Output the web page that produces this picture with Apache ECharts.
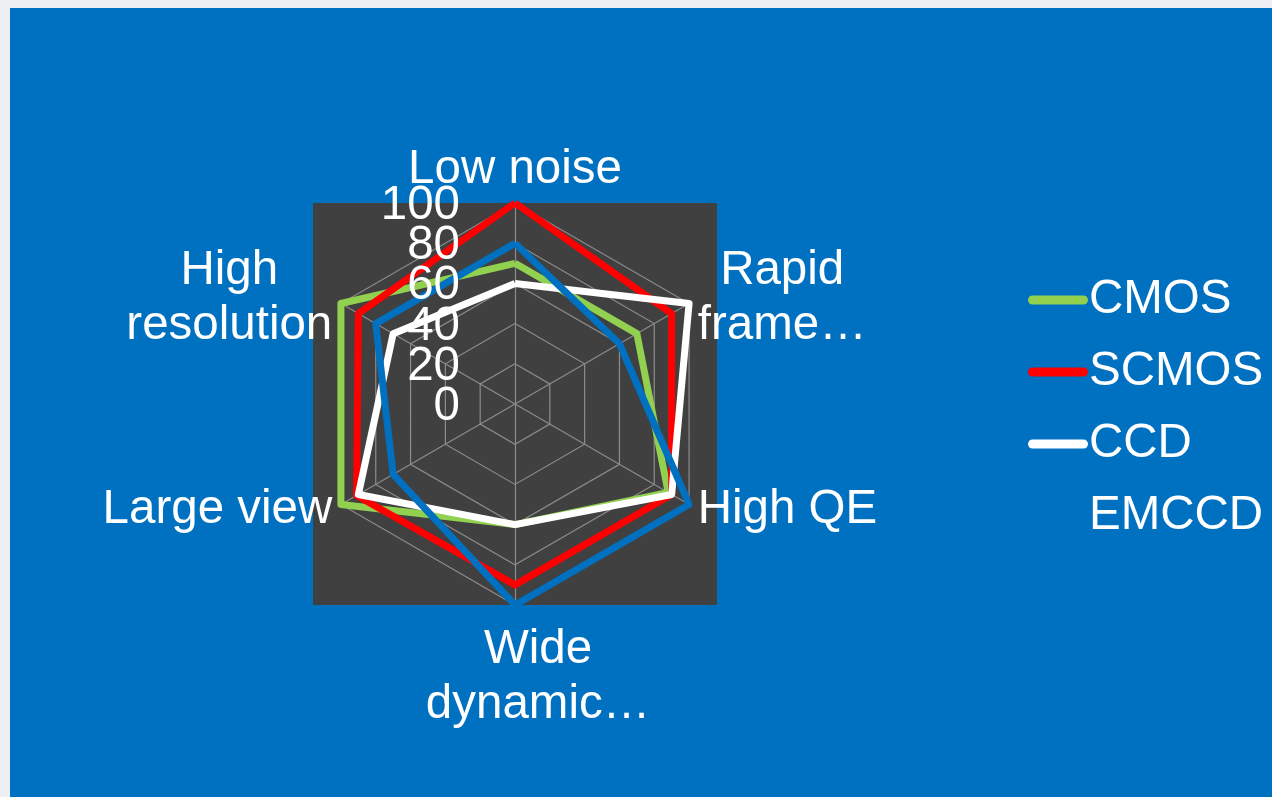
<!DOCTYPE html>
<html>
<head>
<meta charset="utf-8">
<script src="https://cdn.jsdelivr.net/npm/echarts@6/dist/echarts.min.js"></script>
<style>
  html, body { margin: 0; padding: 0; background: #EEEFF2; }
  #chart { position: absolute; left: 10px; top: 8px; width: 1262px; height: 789px; }
</style>
</head>
<body>
<div id="chart"></div>
<script>
// Camera sensor comparison, scores 0-100 per attribute (clockwise from the top)
const categories = ['Low noise', 'Rapid frame rate', 'High QE', 'Wide dynamic range', 'Large view', 'High resolution'];
const axisLabels = ['Low noise', 'Rapid\nframe…', 'High QE', 'Wide\ndynamic…', 'Large view', 'High\nresolution'];
const seriesNames = ['CMOS', 'SCMOS', 'CCD', 'EMCCD'];
const cmos  = [70, 70, 88, 60, 100, 100];
const scmos = [100, 90, 90, 90, 91, 90];
const ccd   = [60, 100, 90, 60, 90, 70];
const emccd = [80, 60, 100, 100, 70, 80];
const tickLabels = ['0', '20', '40', '60', '80', '100'];
const scaleMax = 100;
const scaleSplits = 5;

const colors = ['#92D050', '#FF0000', '#FFFFFF', '#0070C0'];
const values = [cmos, scmos, ccd, emccd];

// ECharts lays indicators out counter-clockwise; reorder so they run clockwise.
const order = [0, 5, 4, 3, 2, 1];

const FONT = '"Liberation Sans", Arial, sans-serif';
const FS = 47.5;
const center = [505, 396];
const radius = 201;
// digits sit a little below the ring they name
const labelDrop = 3;

const indicator = order.map(function (i) {
  return { name: categories[i], max: scaleMax, min: 0 };
});

function nameFormatter(name) {
  const idx = categories.indexOf(name);
  const lines = axisLabels[idx].split('\n');
  if (lines.length === 1) return '{s|' + lines[0] + '}';
  const style = name === 'Wide dynamic range' ? 'w' : 'c';
  return lines.map(function (l) { return '{' + style + '|' + l + '}'; }).join('\n');
}

const chart = echarts.init(document.getElementById('chart'), null, { renderer: 'canvas' });
chart.setOption({
  animation: false,
  backgroundColor: '#0070C0',
  graphic: [{
    type: 'rect',
    z: -10,
    silent: true,
    shape: { x: center[0] - radius - 1, y: center[1] - radius, width: 2 * radius + 2, height: 2 * radius },
    style: { fill: '#404040' }
  }],
  // Value scale printed up the "Low noise" spoke, from the centre to the outer ring
  grid: {
    left: center[0],
    top: center[1] - radius + labelDrop,
    width: 1,
    height: radius,
    containLabel: false
  },
  xAxis: { type: 'value', show: false },
  yAxis: {
    type: 'category',
    data: tickLabels,
    boundaryGap: false,
    z: 20,
    axisLine: { show: false },
    axisTick: { show: false },
    splitLine: { show: false },
    axisLabel: {
      interval: 0,
      margin: 55,
      color: '#FFFFFF',
      fontSize: FS,
      fontFamily: FONT
    }
  },
  legend: {
    orient: 'vertical',
    left: 1013,
    top: 263,
    itemGap: 24,
    itemWidth: 60,
    itemHeight: 9,
    icon: 'path://M4.5,0 H55.5 A4.5,4.5 0 0 1 55.5,9 H4.5 A4.5,4.5 0 0 1 4.5,0 Z',
    data: seriesNames,
    textStyle: { color: '#FFFFFF', fontSize: FS, fontFamily: FONT, lineHeight: 46, padding: [0, 0, 0, -4] }
  },
  radar: {
    center: center,
    radius: radius,
    startAngle: 90,
    splitNumber: scaleSplits,
    shape: 'polygon',
    indicator: indicator,
    axisName: {
      color: '#FFFFFF',
      fontSize: FS,
      fontFamily: FONT,
      formatter: nameFormatter,
      rich: {
        s: { fontSize: FS, fontFamily: FONT, color: '#FFFFFF', lineHeight: 46 },
        c: { fontSize: FS, fontFamily: FONT, color: '#FFFFFF', lineHeight: 55, align: 'center' },
        w: { fontSize: FS, fontFamily: FONT, color: '#FFFFFF', lineHeight: 55, align: 'center', padding: [14, 0, 0, 46] }
      }
    },
    nameGap: 10,
    axisLabel: { show: false },
    axisLine: { lineStyle: { color: '#8C8C8C', width: 1.2 } },
    splitLine: { lineStyle: { color: '#8C8C8C', width: 1.2 } },
    splitArea: { show: false }
  },
  series: seriesNames.map(function (name, s) {
    return {
      type: 'radar',
      name: name,
      z: 2 + s,
      symbol: 'none',
      lineStyle: { color: colors[s], width: 7, join: 'round' },
      itemStyle: { color: colors[s] },
      data: [{ name: name, value: order.map(function (i) { return values[s][i]; }) }]
    };
  })
});
</script>
</body>
</html>
